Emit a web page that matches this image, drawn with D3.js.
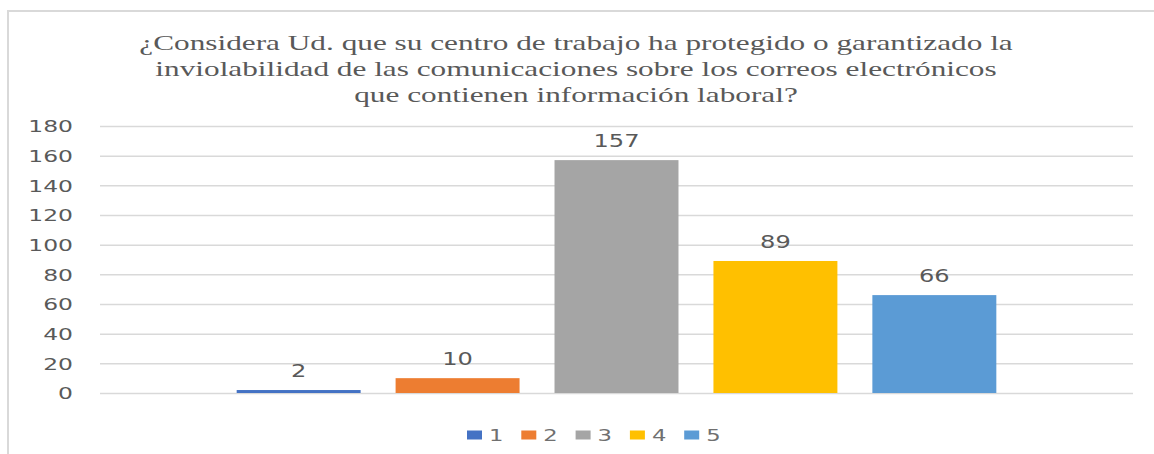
<!DOCTYPE html>
<html>
<head>
<meta charset="utf-8">
<script src="https://cdn.jsdelivr.net/npm/d3@7"></script>
<style>
  body { margin: 0; background: #fff; }
  #chart { width: 1154px; height: 454px; }
</style>
</head>
<body>
<div id="chart"></div>
<script>
const titleLines = [
    '¿Considera Ud. que su centro de trabajo ha protegido o garantizado la',
    'inviolabilidad de las comunicaciones sobre los correos electrónicos',
    'que contienen información laboral?'
];
const series = ['1', '2', '3', '4', '5'];
const values = [2, 10, 157, 89, 66];
const colors = ['#4472C4', '#ED7D31', '#A5A5A5', '#FFC000', '#5B9BD5'];
const yTicks = [0, 20, 40, 60, 80, 100, 120, 140, 160, 180];

// the picture is stretched sideways, so text gets the same stretch
const SX = 1.42;
const TITLE_SX = 1.49;

function drawChart() {
    const container = document.getElementById('chart');
    const margin = { top: 126, right: 21, bottom: 61, left: 100 };
    const width = 1154 - margin.left - margin.right;
    const height = 454 - margin.top - margin.bottom;

    const root = d3.select(container)
        .append('svg')
        .attr('width', 1154)
        .attr('height', 454);

    // chart frame (only top and left edges fall inside the picture)
    root.append('rect')
        .attr('x', 8)
        .attr('y', 11)
        .attr('width', 1200)
        .attr('height', 500)
        .attr('fill', 'none')
        .attr('stroke', '#d9d9d9')
        .attr('stroke-width', 2);

    root.selectAll('.title')
        .data(titleLines)
        .enter()
        .append('text')
        .attr('class', 'title')
        .attr('transform', (d, i) => `translate(576, ${50 + i * 26}) scale(${TITLE_SX}, 1)`)
        .attr('text-anchor', 'middle')
        .style('font-family', '"Liberation Serif", serif')
        .style('font-size', '21px')
        .style('fill', '#595959')
        .text(d => d);

    const svg = root.append('g')
        .attr('transform', `translate(${margin.left}, ${margin.top})`);

    const xScale = d3.scaleBand()
        .domain(series)
        .range([0, width])
        .paddingInner(0.22)
        .paddingOuter(0.86);

    const yScale = d3.scaleLinear()
        .domain([0, 180])
        .range([height, 0]);

    const yAxis = svg.append('g')
        .call(d3.axisLeft(yScale).tickValues(yTicks).tickSize(-width).tickFormat(d3.format('d')));

    yAxis.select('.domain').remove();
    yAxis.selectAll('line')
        .attr('stroke', '#d9d9d9')
        .attr('stroke-width', 1.5);
    yAxis.selectAll('text')
        .attr('x', -27 / SX)
        .attr('dy', '0.36em')
        .attr('transform', `scale(${SX}, 1)`)
        .style('font-family', '"DejaVu Sans", sans-serif')
        .style('font-size', '16.5px')
        .style('fill', '#595959');

    const barData = series.map((s, i) => ({ series: s, value: values[i], color: colors[i] }));

    svg.selectAll('.bar')
        .data(barData)
        .enter()
        .append('rect')
        .attr('class', 'bar')
        .attr('x', d => xScale(d.series))
        .attr('y', d => yScale(d.value))
        .attr('width', xScale.bandwidth())
        .attr('height', d => height - yScale(d.value))
        .attr('fill', d => d.color);

    svg.selectAll('.label')
        .data(barData)
        .enter()
        .append('text')
        .attr('class', 'label')
        .attr('transform', d => `translate(${xScale(d.series) + xScale.bandwidth() / 2}, ${yScale(d.value) - 13}) scale(${SX}, 1)`)
        .attr('text-anchor', 'middle')
        .style('font-family', '"DejaVu Sans", sans-serif')
        .style('font-size', '17px')
        .style('fill', '#595959')
        .text(d => d.value);

    // legend
    const legend = root.append('g')
        .attr('transform', 'translate(467, 435)');

    legend.selectAll('.legend-item')
        .data(barData)
        .enter()
        .append('g')
        .attr('class', 'legend-item')
        .attr('transform', (d, i) => `translate(${i * 54.3}, 0)`)
        .each(function(d) {
            const g = d3.select(this);
            g.append('rect')
                .attr('x', 0)
                .attr('y', -4.5)
                .attr('width', 15)
                .attr('height', 9)
                .attr('fill', d.color);
            g.append('text')
                .attr('transform', `translate(22, 6) scale(${SX}, 1)`)
                .style('font-family', '"DejaVu Sans", sans-serif')
                .style('font-size', '16px')
                .style('fill', '#707070')
                .text(d.series);
        });
}

drawChart();
</script>
</body>
</html>
